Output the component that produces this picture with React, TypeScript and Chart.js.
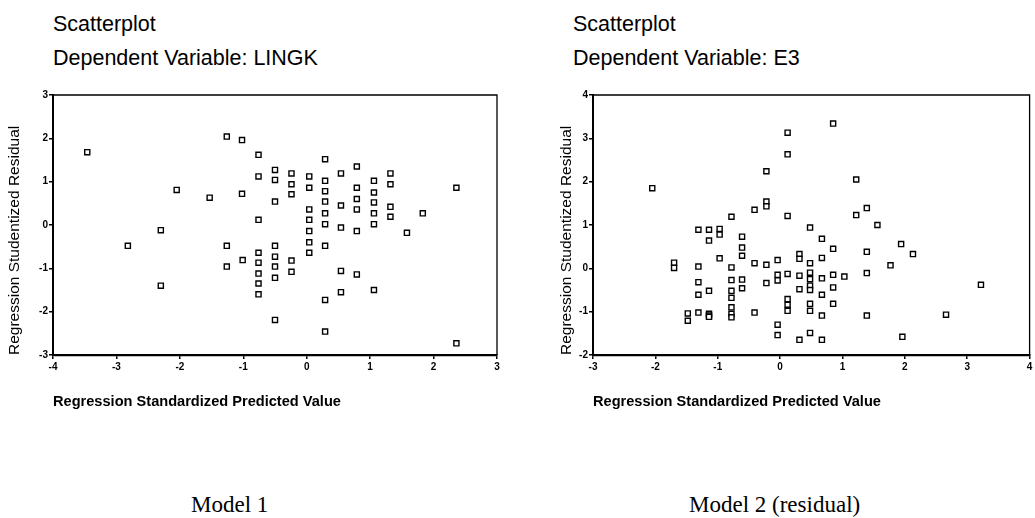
import React, { useEffect, useRef } from "react";
import { Chart, registerables } from "chart.js";

Chart.register(...registerables);

// ---------- data ----------
const model1X = [
  -3.46, -2.82, -2.3, -2.3, -2.05, -1.53, -1.26, -1.26, -1.26, -1.02, -1.02, -1.01,
  -0.76, -0.76, -0.76, -0.76, -0.76, -0.76, -0.76, -0.76,
  -0.5, -0.5, -0.5, -0.5, -0.5, -0.5, -0.5, -0.5,
  -0.24, -0.24, -0.24, -0.24, -0.24,
  0.04, 0.04, 0.04, 0.04, 0.04, 0.04, 0.04,
  0.29, 0.29, 0.29, 0.29, 0.29, 0.29, 0.29, 0.29, 0.29,
  0.54, 0.54, 0.54, 0.54, 0.54,
  0.79, 0.79, 0.79, 0.79, 0.79, 0.79,
  1.06, 1.06, 1.06, 1.06, 1.06, 1.06,
  1.32, 1.32, 1.32, 1.32,
  1.58, 1.83, 2.36, 2.36,
];
const model1Y = [
  1.68, -0.48, -0.12, -1.4, 0.81, 0.63, 2.04, -0.48, -0.96, 1.96, 0.72, -0.81,
  1.62, 1.12, 0.12, -0.64, -0.87, -1.12, -1.35, -1.6,
  1.27, 1.04, 0.54, -0.48, -0.73, -0.96, -1.22, -2.19,
  1.19, 0.94, 0.71, -0.82, -1.08,
  1.12, 0.86, 0.36, 0.12, -0.14, -0.4, -0.64,
  1.52, 1.02, 0.78, 0.54, 0.27, 0.02, -0.48, -1.73, -2.46,
  1.19, 0.45, -0.06, -1.06, -1.55,
  1.35, 0.86, 0.6, 0.36, -0.14, -1.14,
  1.02, 0.75, 0.52, 0.27, 0.02, -1.5,
  1.19, 0.94, 0.42, 0.19,
  -0.18, 0.27, 0.86, -2.73,
];

const model2X = [
  -2.05, -1.7, -1.7, -1.48, -1.48,
  -1.31, -1.31, -1.31, -1.31, -1.31,
  -1.14, -1.14, -1.14, -1.14, -1.14, -1.14,
  -0.97, -0.97, -0.97,
  -0.78, -0.78, -0.78, -0.78, -0.78, -0.78, -0.78, -0.78,
  -0.61, -0.61, -0.61, -0.61, -0.61,
  -0.41, -0.41, -0.41,
  -0.22, -0.22, -0.22, -0.22, -0.22,
  -0.04, -0.04, -0.04, -0.04, -0.04,
  0.12, 0.12, 0.12, 0.12, 0.12, 0.12, 0.12,
  0.31, 0.31, 0.31, 0.31, 0.31,
  0.48, 0.48, 0.48, 0.48, 0.48, 0.48, 0.48, 0.48, 0.48,
  0.67, 0.67, 0.67, 0.67, 0.67, 0.67,
  0.85, 0.85, 0.85, 0.85, 0.85,
  1.03, 1.22, 1.22, 1.39, 1.39, 1.39, 1.39,
  1.56, 1.77, 1.94, 1.96, 2.13, 2.66, 3.22,
];
const model2Y = [
  1.85, 0.13, 0.01, -1.04, -1.21,
  0.89, 0.04, -0.32, -0.61, -1.02,
  0.89, 0.64, -0.52, -1.05, -1.09, -1.12,
  0.91, 0.78, 0.23,
  1.19, 0.02, -0.27, -0.52, -0.68, -0.9, -1.05, -1.13,
  0.73, 0.48, 0.29, -0.26, -0.46,
  1.35, 0.12, -1.02,
  2.24, 1.54, 1.43, 0.08, -0.34,
  0.19, -0.15, -0.28, -1.3, -1.54,
  3.13, 2.63, 1.21, -0.13, -0.71, -0.84, -0.98,
  0.33, 0.22, -0.17, -0.48, -1.65,
  0.94, 0.12, -0.1, -0.25, -0.4, -0.5, -0.82, -0.98, -1.49,
  0.68, 0.24, -0.23, -0.61, -1.09, -1.65,
  3.34, 0.45, -0.15, -0.44, -0.82,
  -0.19, 2.05, 1.23, 1.39, 0.38, -0.11, -1.09,
  1.0, 0.07, 0.56, -1.58, 0.33, -1.07, -0.38,
];

const xTicks1 = [-4, -3, -2, -1, 0, 1, 2, 3];
const yTicks1 = [-3, -2, -1, 0, 1, 2, 3];
const xTicks2 = [-3, -2, -1, 0, 1, 2, 3, 4];
const yTicks2 = [-2, -1, 0, 1, 2, 3, 4];

const chartTitle = "Scatterplot";
const depTitle1 = "Dependent Variable: LINGK";
const depTitle2 = "Dependent Variable: E3";
const xAxisTitle = "Regression Standardized Predicted Value";
const yAxisTitle = "Regression Studentized Residual";
const caption1 = "Model 1";
const caption2 = "Model 2 (residual)";

const SANS = "'Liberation Sans', Arial, sans-serif";
const SERIF = "'Liberation Serif', 'Times New Roman', serif";

const framePlugin = {
  id: "frameBox",
  afterDatasetsDraw(chart: any) {
    const { ctx, chartArea } = chart;
    ctx.save();
    ctx.strokeStyle = "#000";
    ctx.lineWidth = 1.3;
    ctx.beginPath();
    ctx.moveTo(chartArea.left, chartArea.top);
    ctx.lineTo(chartArea.right, chartArea.top);
    ctx.lineTo(chartArea.right, chartArea.bottom);
    ctx.stroke();
    ctx.restore();
  },
};

type PanelProps = {
  left: number;
  width: number;
  padLeft: number;
  padRight: number;
  yAxisWidth: number;
  xs: number[];
  ys: number[];
  xTicks: number[];
  yTicks: number[];
};

const CANVAS_TOP = 80;
const PAD_TOP = 15;
const PLOT_H = 260;
const X_AXIS_H = 56;
const CANVAS_H = PAD_TOP + PLOT_H + X_AXIS_H;

function Panel({ left, width, padLeft, padRight, yAxisWidth, xs, ys, xTicks, yTicks }: PanelProps) {
  const ref = useRef<HTMLCanvasElement | null>(null);
  useEffect(() => {
    if (!ref.current) return;
    const pts = xs.map((x, i) => ({ x, y: ys[i] }));
    const tickFont = { family: SANS, size: 10, weight: "bold" as const };
    const chart = new Chart(ref.current, {
      type: "scatter",
      data: {
        datasets: [
          {
            data: pts,
            pointStyle: "rect",
            pointRadius: 3.6,
            pointBorderWidth: 1.4,
            pointBackgroundColor: "#fff",
            pointBorderColor: "#000",
          },
        ],
      },
      options: {
        animation: false,
        responsive: false,
        devicePixelRatio: 1,
        layout: { padding: { left: padLeft, top: PAD_TOP, right: padRight, bottom: 0 } },
        plugins: { legend: { display: false }, tooltip: { enabled: false } },
        scales: {
          x: {
            type: "linear",
            min: xTicks[0],
            max: xTicks[xTicks.length - 1],
            afterBuildTicks: (s: any) => {
              s.ticks = xTicks.map((v) => ({ value: v }));
            },
            afterFit: (s: any) => {
              s.height = X_AXIS_H;
            },
            ticks: {
              autoSkip: false,
              maxRotation: 0,
              padding: 2,
              color: "#000",
              font: tickFont,
              callback: (v: any) => String(v),
            },
            grid: {
              display: true,
              drawOnChartArea: false,
              drawTicks: true,
              tickLength: 4,
              color: "#000",
              lineWidth: 1.5,
            },
            border: { display: true, color: "#000", width: 2.2 },
            title: {
              display: true,
              text: xAxisTitle,
              align: "start",
              color: "#000",
              padding: 0,
              font: { family: SANS, size: 14.6, weight: "bold" },
            },
          },
          y: {
            type: "linear",
            min: yTicks[0],
            max: yTicks[yTicks.length - 1],
            afterBuildTicks: (s: any) => {
              s.ticks = yTicks.map((v) => ({ value: v }));
            },
            afterFit: (s: any) => {
              s.width = yAxisWidth;
            },
            ticks: {
              autoSkip: false,
              padding: 1,
              color: "#000",
              font: tickFont,
              callback: (v: any) => String(v),
            },
            grid: {
              display: true,
              drawOnChartArea: false,
              drawTicks: true,
              tickLength: 4,
              color: "#000",
              lineWidth: 1.5,
            },
            border: { display: true, color: "#000", width: 2 },
            title: {
              display: true,
              text: yAxisTitle,
              align: "start",
              color: "#000",
              padding: 0,
              font: { family: SANS, size: 15.5 },
            },
          },
        },
      },
      plugins: [framePlugin],
    });
    return () => chart.destroy();
  }, []);
  return (
    <canvas
      ref={ref}
      width={width}
      height={CANVAS_H}
      style={{ position: "absolute", left, top: CANVAS_TOP, width, height: CANVAS_H }}
    />
  );
}

const textStyle = (left: number, top: number, size: number, family: string) => ({
  position: "absolute" as const,
  left,
  top,
  fontFamily: family,
  fontSize: size,
  lineHeight: `${size}px`,
  whiteSpace: "nowrap" as const,
  color: "#000",
});

export default function App() {
  return (
    <div
      style={{
        position: "absolute",
        left: 0,
        top: 0,
        width: 1035,
        height: 518,
        background: "#fff",
        overflow: "hidden",
      }}
    >
      <div style={textStyle(53, 14, 21.5, SANS)}>{chartTitle}</div>
      <div style={textStyle(53, 48, 21.5, SANS)}>{depTitle1}</div>
      <div style={textStyle(573, 14, 21.5, SANS)}>{chartTitle}</div>
      <div style={textStyle(573, 48, 21.5, SANS)}>{depTitle2}</div>
      <Panel
        left={0}
        width={510}
        padLeft={5}
        padRight={13}
        yAxisWidth={48}
        xs={model1X}
        ys={model1Y}
        xTicks={xTicks1}
        yTicks={yTicks1}
      />
      <Panel
        left={520}
        width={515}
        padLeft={37}
        padRight={0}
        yAxisWidth={36}
        xs={model2X}
        ys={model2Y}
        xTicks={xTicks2}
        yTicks={yTicks2}
      />
      <div style={textStyle(191, 493, 23, SERIF)}>{caption1}</div>
      <div style={textStyle(689, 493, 23, SERIF)}>{caption2}</div>
    </div>
  );
}
